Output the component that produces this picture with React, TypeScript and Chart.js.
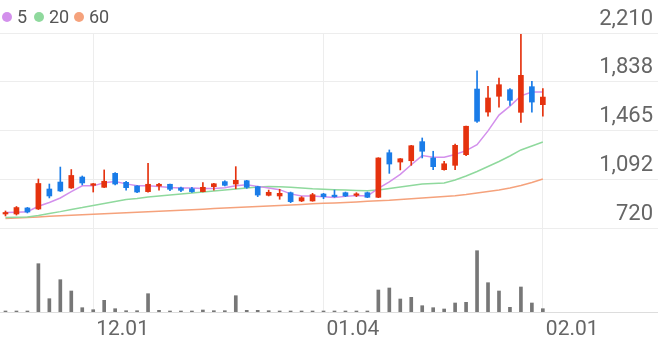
import React, { useEffect, useRef } from 'react';
import { Chart, registerables } from 'chart.js';

Chart.register(...registerables);

// ---- data ----
const dates = [
  '11.19', '11.20', '11.23', '11.24', '11.25', '11.26', '11.27', '11.30',
  '12.01', '12.02', '12.03', '12.04', '12.07', '12.08', '12.09', '12.10', '12.11',
  '12.14', '12.15', '12.16', '12.17', '12.18', '12.21', '12.22', '12.23', '12.24',
  '12.28', '12.29', '12.30',
  '01.04', '01.05', '01.06', '01.07', '01.08', '01.11', '01.12', '01.13', '01.14',
  '01.15', '01.18', '01.19', '01.20', '01.21', '01.22', '01.25', '01.26', '01.27',
  '01.28', '01.29', '02.01',
];
const opens = [
  834, 834, 880, 872, 1024, 1077, 1032, 1115, 1052, 1037,
  1143, 1075, 1047, 1004, 1047, 1060, 1032, 1026, 1004, 1042,
  1080, 1062, 1087, 1042, 976, 971, 996, 933, 933, 986,
  976, 996, 976, 996, 961, 1300, 1229, 1239, 1384, 1260,
  1171, 1204, 1285, 1784, 1609, 1729, 1779, 1607, 1802, 1665,
];
const closes = [
  842, 883, 849, 1066, 971, 1009, 1127, 1070, 1064, 1083,
  1062, 1034, 1001, 1060, 1060, 1022, 1014, 1004, 1037, 1064,
  1052, 1090, 1037, 978, 999, 991, 928, 958, 981, 966,
  966, 971, 986, 961, 1260, 1214, 1254, 1353, 1311, 1194,
  1216, 1356, 1501, 1539, 1716, 1817, 1698, 1888, 1685, 1723,
];
const highs = [
  857, 891, 884, 1100, 1062, 1191, 1172, 1123, 1066, 1169,
  1148, 1083, 1051, 1219, 1067, 1062, 1039, 1037, 1072, 1067,
  1087, 1194, 1090, 1045, 1016, 1022, 1001, 966, 991, 991,
  1016, 1001, 996, 1001, 1262, 1321, 1256, 1356, 1412, 1311,
  1235, 1366, 1503, 1923, 1805, 1868, 1787, 2200, 1843, 1787,
];
const lows = [
  819, 826, 842, 868, 956, 1005, 1028, 1055, 1001, 1035,
  1055, 1016, 997, 1000, 1016, 1011, 1004, 999, 1001, 1016,
  1047, 1026, 1029, 966, 971, 946, 920, 928, 931, 950,
  961, 966, 966, 958, 958, 1143, 1169, 1204, 1260, 1171,
  1168, 1171, 1277, 1531, 1577, 1647, 1660, 1531, 1609, 1577,
];
const volumes = [
  70, 70, 70, 4830, 1330, 3230, 2100, 430, 230, 1170,
  330, 130, 130, 1830, 170, 100, 100, 100, 200, 130,
  130, 1630, 170, 170, 130, 100, 100, 100, 70, 70,
  70, 70, 70, 70, 2200, 2400, 1300, 1470, 630, 430,
  300, 900, 970, 6130, 2930, 2100, 470, 2500, 900, 330,
];
const ma5 = [
  845, 848, 851, 893, 922, 956, 1004, 1049, 1048, 1071,
  1081, 1063, 1049, 1048, 1043, 1035, 1031, 1032, 1027, 1028,
  1034, 1049, 1056, 1044, 1031, 1019, 987, 971, 971, 965,
  960, 968, 974, 970, 1029, 1078, 1135, 1208, 1278, 1265,
  1266, 1286, 1316, 1361, 1466, 1586, 1654, 1732, 1761, 1762,
];
const ma20 = [
  807, 809, 811, 823, 838, 852, 869, 883, 899, 914,
  929, 944, 952, 963, 971, 978, 986, 994, 1001, 1009,
  1016, 1024, 1032, 1039, 1043, 1042, 1037, 1032, 1026, 1022,
  1019, 1016, 1013, 1010, 1016, 1028, 1039, 1051, 1062, 1066,
  1070, 1092, 1123, 1157, 1195, 1233, 1275, 1321, 1351, 1381,
];
const ma60 = [
  800, 804, 808, 812, 816, 820, 824, 828, 832, 836,
  840, 843, 847, 851, 855, 859, 863, 867, 871, 875,
  879, 883, 887, 891, 895, 899, 903, 907, 911, 915,
  918, 922, 926, 930, 934, 938, 944, 950, 956, 962,
  967, 973, 982, 994, 1005, 1016, 1032, 1051, 1073, 1100,
];
const priceTicks = [720, 1092.5, 1465, 1837.5, 2210];
const priceTickLabels = ['720', '1,092', '1,465', '1,838', '2,210'];
const dateTickLabels = ['12.01', '01.04', '02.01'];
const emptySlots = 10;
const legendItems = [
  { label: '5', color: '#d390ec' },
  { label: '20', color: '#8fd99d' },
  { label: '60', color: '#f5a27c' },
];

// ---- styles ----
const RED = '#e5320e';
const BLUE = '#1a7ce8';
const GRAY = '#777777';
const GRID = '#ededed';
const FONT = 'Roboto';

export default function App() {
  const ref = useRef<HTMLCanvasElement>(null);

  useEffect(() => {
    const labels = [...dates, ...Array(emptySlots).fill('')];
    const candleColors = closes.map((c, i) => (c >= opens[i] ? RED : BLUE));
    const chart = new Chart(ref.current as HTMLCanvasElement, {
      type: 'bar',
      data: {
        labels,
        datasets: [
          {
            type: 'bar',
            label: 'body',
            data: opens.map((o, i) => [o, closes[i]]) as any,
            backgroundColor: candleColors,
            barThickness: 5,
            grouped: false,
            minBarLength: 1.5,
            yAxisID: 'y',
            order: 0,
          } as any,
          {
            type: 'bar',
            label: 'wick',
            data: lows.map((l, i) => [l, highs[i]]) as any,
            backgroundColor: candleColors,
            barThickness: 1,
            grouped: false,
            yAxisID: 'y',
            order: 1,
          } as any,
          {
            type: 'line',
            label: '5',
            data: ma5,
            borderColor: legendItems[0].color,
            borderWidth: 1.5,
            pointRadius: 0,
            yAxisID: 'y',
            order: 2,
          },
          {
            type: 'line',
            label: '20',
            data: ma20,
            borderColor: legendItems[1].color,
            borderWidth: 1.5,
            pointRadius: 0,
            yAxisID: 'y',
            order: 3,
          },
          {
            type: 'line',
            label: '60',
            data: ma60,
            borderColor: legendItems[2].color,
            borderWidth: 1.5,
            pointRadius: 0,
            yAxisID: 'y',
            order: 4,
          },
          {
            type: 'bar',
            label: 'volume',
            data: volumes,
            backgroundColor: GRAY,
            barThickness: 3,
            grouped: false,
            minBarLength: 1,
            yAxisID: 'yv',
            order: 5,
          } as any,
        ],
      },
      options: {
        animation: false,
        responsive: false,
        devicePixelRatio: 1,
        layout: { padding: { top: 33, left: 0, right: 0, bottom: 0 } },
        plugins: { legend: { display: false }, tooltip: { enabled: false } },
        scales: {
          x: {
            type: 'category',
            offset: true,
            grid: { offset: false, color: GRID, drawTicks: false },
            border: { display: true, color: '#dddddd' },
            afterBuildTicks: (s: any) => {
              s.ticks = dateTickLabels.map((d) => ({ value: dates.indexOf(d) }));
            },
            afterFit: (s: any) => {
              s.height = 30;
            },
            ticks: {
              autoSkip: false,
              maxRotation: 0,
              align: 'start',
              labelOffset: 3,
              padding: 5,
              color: '#666666',
              font: { family: FONT, size: 21 },
            },
          } as any,
          y: {
            position: 'right',
            min: 89,
            max: 2210,
            afterBuildTicks: (s: any) => {
              s.ticks = priceTicks.map((v) => ({ value: v }));
            },
            afterFit: (s: any) => {
              s.width = 0;
            },
            grid: { color: GRID, drawTicks: false },
            border: { display: false },
            ticks: {
              mirror: true,
              padding: -5,
              labelOffset: -14,
              color: '#666666',
              font: { family: FONT, size: 22 },
              callback: (_v: any, i: number) => priceTickLabels[i],
            },
          } as any,
          yv: {
            display: false,
            position: 'right',
            min: 0,
            max: 27900,
          },
        },
      },
    });
    return () => chart.destroy();
  }, []);

  return (
    <div style={{ position: 'absolute', left: 0, top: 0, width: 658, height: 342, background: '#fff' }}>
      <canvas ref={ref} width={658} height={342} style={{ position: 'absolute', left: 0, top: 0 }} />
      {legendItems.map((it, i) => {
        const lefts = [2, 34, 74];
        return (
          <div
            key={it.label}
            style={{
              position: 'absolute',
              left: lefts[i],
              top: 8,
              height: 18,
              display: 'flex',
              alignItems: 'center',
              fontFamily: FONT,
              fontSize: 18,
              lineHeight: '18px',
              color: '#555555',
              whiteSpace: 'nowrap',
            }}
          >
            <span
              style={{
                display: 'inline-block',
                width: 10,
                height: 10,
                borderRadius: 5,
                background: it.color,
                marginRight: 5,
              }}
            />
            <span>{it.label}</span>
          </div>
        );
      })}
    </div>
  );
}
